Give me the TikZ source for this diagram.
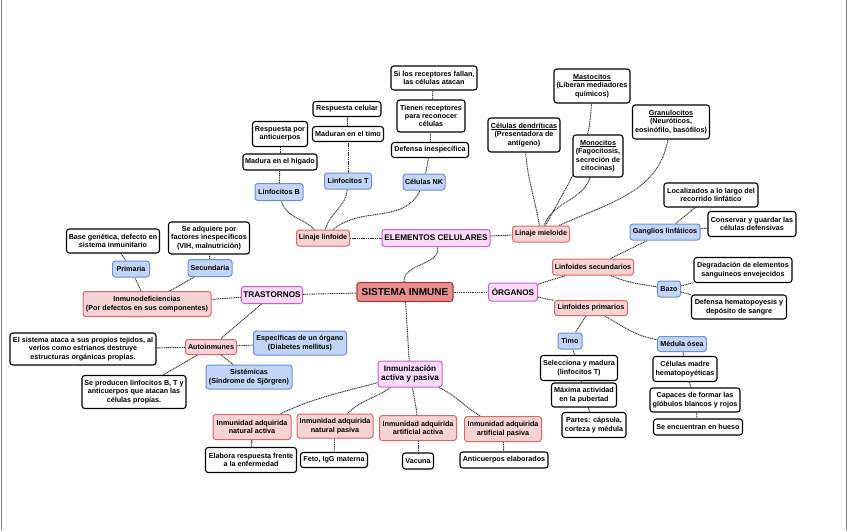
\documentclass[tikz,border=0pt]{standalone}
\usepackage{fontspec}
\setmainfont{Liberation Sans}
\usetikzlibrary{positioning}
\pgfdeclarelayer{bg}
\pgfsetlayers{bg,main}
\definecolor{redfill}{HTML}{F6D3D3}
\definecolor{reddraw}{HTML}{E06666}
\definecolor{bluefill}{HTML}{C3D5F6}
\definecolor{bluedraw}{HTML}{6D8FD9}
\definecolor{magfill}{HTML}{F9DBF7}
\definecolor{magdraw}{HTML}{CC5FCC}
\definecolor{cenfill}{HTML}{E88E8E}
\definecolor{cendraw}{HTML}{B03A3A}
\definecolor{conncol}{HTML}{333333}
\newcommand\myul[1]{\setbox0\hbox{#1}\rlap{\rule[-1.1pt]{\wd0}{0.55pt}}\box0}
\tikzset{
  base/.style={rounded corners=2.8pt, align=center, inner xsep=2pt, inner ysep=1pt,
    font=\fontsize{7.2}{8.4}\selectfont\bfseries},
  wh/.style 2 args={minimum width=#1pt, minimum height=#2pt},
  leaf/.style={base, draw=black, line width=1.1pt, fill=white},
  redn/.style={base, draw=reddraw, line width=1pt, fill=redfill},
  bluen/.style={base, draw=bluedraw, line width=1pt, fill=bluefill},
  magn/.style={base, draw=magdraw, line width=1pt, fill=magfill,
    font=\fontsize{8.2}{9.6}\selectfont\bfseries},
  cenn/.style={base, draw=cendraw, line width=1.1pt, fill=cenfill,
    font=\fontsize{10}{12}\selectfont\bfseries},
  conn/.style={draw=conncol, line width=0.95pt, dash pattern=on 1.1pt off 0.7pt},
}
\begin{document}
\begin{tikzpicture}[x=1pt,y=-1pt]
\useasboundingbox (0,0) rectangle (848,530);
\begin{pgfonlayer}{bg}
\fill[white] (0,0) rectangle (848,530);
\draw[gray, line width=1pt] (1,0) -- (1,530);
\draw[gray, line width=1pt] (846,0) -- (846,530);
\end{pgfonlayer}

% main
\node[cenn, wh={96}{19}] (si) at (405,292) {SISTEMA INMUNE};
\node[magn, wh={108}{17}] (ec) at (436,238) {ELEMENTOS CELULARES};
\node[magn, wh={49}{18}] (org) at (513,292) {ÓRGANOS};
\node[magn, wh={61}{17}] (tra) at (272,295) {TRASTORNOS};
\node[magn, wh={64}{26}] (inm) at (410,374) {Inmunización\\activa y pasiva};

% elementos celulares
\node[redn, wh={53}{16}] (ll) at (323,238) {Linaje linfoide};
\node[redn, wh={57}{16}] (lm) at (541,234) {Linaje mieloide};
\node[bluen, wh={48}{17}] (lb) at (279,192) {Linfocitos B};
\node[bluen, wh={47}{16}] (lt) at (348,181) {Linfocitos T};
\node[bluen, wh={42}{16}] (nk) at (424,182) {Células NK};
\node[leaf, wh={74}{16}] (mh) at (280,162) {Madura en el hígado};
\node[leaf, wh={55}{25}] (rpa) at (280,134) {Respuesta por\\anticuerpos};
\node[leaf, wh={71}{15}] (mt) at (348,134) {Maduran en el timo};
\node[leaf, wh={68}{15}] (rc) at (347,109) {Respuesta celular};
\node[leaf, wh={77}{15}] (di) at (430,150) {Defensa inespecífica};
\node[leaf, wh={68}{32}] (tr) at (431,116) {Tienen receptores\\para reconocer\\células};
\node[leaf, wh={86}{24}] (slr) at (434,78) {Si los receptores fallan,\\las células atacan};
\node[leaf, wh={72}{34}] (cd) at (524,135) {\myul{Células dendríticas}\\(Presentadora de\\antígeno)};
\node[leaf, wh={76}{34}] (mas) at (592,86) {\myul{Mastocitos}\\(Liberan mediadores\\químicos)};
\node[leaf, wh={50}{42}] (mon) at (598,156) {\myul{Monocitos}\\(Fagocitosis,\\secreción de\\citocinas)};
\node[leaf, wh={77}{34}] (gra) at (671,122) {\myul{Granulocitos}\\(Neuróticos,\\eosinófilo, basófilos)};

% organos
\node[redn, wh={81}{16}] (lsec) at (593,267) {Linfoides secundarios};
\node[redn, wh={73}{15}] (lpri) at (591,308) {Linfoides primarios};
\node[bluen, wh={70}{16}] (gl) at (665,232) {Ganglios linfáticos};
\node[leaf, wh={94}{24}] (loc) at (711,195) {Localizados a lo largo del\\recorrido linfático};
\node[leaf, wh={88}{25}] (con) at (752,224) {Conservar y guardar las\\células defensivas};
\node[bluen, wh={23}{16}] (baz) at (669,289) {Bazo};
\node[leaf, wh={98}{25}] (deg) at (743,270) {Degradación de elementos\\sanguíneos envejecidos};
\node[leaf, wh={95}{24}] (dh) at (739,307) {Defensa hematopoyesis y\\depósito de sangre};
\node[bluen, wh={24}{16}] (tim) at (570,341) {Timo};
\node[bluen, wh={49}{15}] (med) at (682,344) {Médula ósea};
\node[leaf, wh={77}{25}] (sel) at (579,368) {Selecciona y madura\\(linfocitos T)};
\node[leaf, wh={65}{24}] (max) at (584,395) {Máxima actividad\\en la pubertad};
\node[leaf, wh={64}{25}] (par) at (594,425) {Partes: cápsula,\\corteza y médula};
\node[leaf, wh={64}{25}] (cm) at (685,369) {Células madre\\hematopoyéticas};
\node[leaf, wh={90}{24}] (cap) at (695,400) {Capaces de formar las\\glóbulos blancos y rojos};
\node[leaf, wh={89}{16}] (seh) at (698,427) {Se encuentran en hueso};

% trastornos
\node[redn, wh={128}{25}] (idf) at (147,304) {Inmunodeficiencias\\(Por defectos en sus componentes)};
\node[bluen, wh={37}{16}] (pri) at (131,269) {Primaria};
\node[bluen, wh={44}{17}] (sec) at (210,268) {Secundaria};
\node[leaf, wh={93}{24}] (bg) at (113,241) {Base genética, defecto en\\sistema inmunitario};
\node[leaf, wh={81}{32}] (sad) at (209,238) {Se adquiere por\\factores inespecíficos\\(VIH, malnutrición)};
\node[redn, wh={51}{15}] (aut) at (211,347) {Autoinmunes};
\node[leaf, wh={146}{32}] (els) at (83,349) {El sistema ataca a sus propios tejidos, al\\verlos como estrianos destruye\\estructuras orgánicas propias.};
\node[leaf, wh={104}{33}] (spr) at (134,392) {Se producen linfocitos B, T y\\anticuerpos que atacan las\\células propias.};
\node[bluen, wh={93}{24}] (esp) at (300,343) {Específicas de un órgano\\(Diabetes mellitus)};
\node[bluen, wh={86}{24}] (sis) at (249,377) {Sistémicas\\(Síndrome de Sjörgren)};

% inmunizacion
\node[redn, wh={78}{25}] (ina) at (252,427) {Inmunidad adquirida\\natural activa};
\node[redn, wh={76}{24}] (inp) at (335,426) {Inmunidad adquirida\\natural pasiva};
\node[redn, wh={77}{25}] (iaa) at (418,428) {Inmunidad adquirida\\artificial activa};
\node[redn, wh={77}{25}] (iap) at (503,429) {Inmunidad adquirida\\artificial pasiva};
\node[leaf, wh={91}{25}] (era) at (251,460) {Elabora respuesta frente\\a la enfermedad};
\node[leaf, wh={67}{15}] (feto) at (334,460) {Feto, IgG materna};
\node[leaf, wh={31}{16}] (vac) at (418,461) {Vacuna};
\node[leaf, wh={88}{16}] (ace) at (504,460) {Anticuerpos elaborados};

\begin{pgfonlayer}{bg}
% central
\draw[conn] (si) to[out=95,in=-80] (ec);
\draw[conn] (si) -- (org);
\draw[conn] (si) -- (tra);
\draw[conn] (si) -- (inm);
% elementos
\draw[conn] (ec) -- (ll);
\draw[conn] (ec) -- (lm);
\draw[conn] (ll) to[out=135,in=-75] (lb);
\draw[conn] (ll) to[out=75,in=-95] (lt);
\draw[conn] (ll) to[out=40,in=-115] (nk);
\draw[conn] (lb) -- (mh);
\draw[conn] (mh) -- (rpa);
\draw[conn] (lt) -- (mt);
\draw[conn] (mt) -- (rc);
\draw[conn] (nk) -- (di);
\draw[conn] (di) -- (tr);
\draw[conn] (tr) -- (slr);
\draw[conn] (lm) to[out=100,in=-85] (cd);
\draw[conn] (lm) to[out=62,in=-92] (mas);
\draw[conn] (lm) to[out=70,in=-110] (mon);
\draw[conn] (lm) to[out=25,in=-100] (gra);
% organos
\draw[conn] (org) -- (lsec);
\draw[conn] (org) -- (lpri);
\draw[conn] (lsec) -- (gl);
\draw[conn] (lsec) to[out=-25,in=170] (baz);
\draw[conn] (gl) -- (loc);
\draw[conn] (gl) -- (con);
\draw[conn] (baz) -- (deg);
\draw[conn] (baz) -- (dh);
\draw[conn] (lpri) -- (tim);
\draw[conn] (lpri) to[out=-30,in=170] (med);
\draw[conn] (tim) -- (sel);
\draw[conn] (sel) -- (max);
\draw[conn] (max) -- (par);
\draw[conn] (med) -- (cm);
\draw[conn] (cm) -- (cap);
\draw[conn] (cap) -- (seh);
% trastornos
\draw[conn] (tra) -- (idf);
\draw[conn] (tra) -- (aut);
\draw[conn] (idf) -- (pri);
\draw[conn] (idf) -- (sec);
\draw[conn] (pri) -- (bg);
\draw[conn] (sec) -- (sad);
\draw[conn] (aut) -- (els);
\draw[conn] (aut) -- (esp);
\draw[conn] (aut) -- (sis);
\draw[conn] (aut) -- (spr);
% inmunizacion
\draw[conn] (inm) to[out=195,in=25] (ina);
\draw[conn] (inm) to[out=215,in=45] (inp);
\draw[conn] (inm) to[out=-80,in=95] (iaa);
\draw[conn] (inm) to[out=-25,in=150] (iap);
\draw[conn] (ina) -- (era);
\draw[conn] (inp) -- (feto);
\draw[conn] (iaa) -- (vac);
\draw[conn] (iap) -- (ace);
\end{pgfonlayer}
\end{tikzpicture}
\end{document}
